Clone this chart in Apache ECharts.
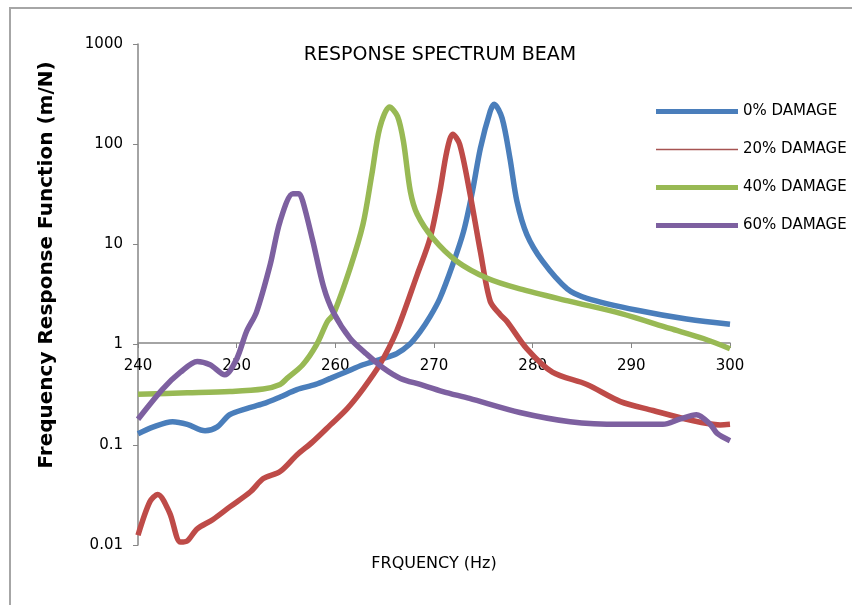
<!DOCTYPE html>
<html>
<head>
<meta charset="utf-8">
<script src="https://cdn.jsdelivr.net/npm/echarts@6/dist/echarts.min.js"></script>
<style>
html,body{margin:0;padding:0;background:#fff;}
#chart{width:852px;height:605px;}
</style>
</head>
<body>
<div id="chart"></div>
<script>
var seriesNames = ['0% DAMAGE', '20% DAMAGE', '40% DAMAGE', '60% DAMAGE'];
var xTicks = [240, 250, 260, 270, 280, 290, 300];

var freq0 = [240, 241.5, 243.5, 245, 246.8, 248, 249.3, 251, 252.7, 254.4, 256.1, 258, 259.5, 261, 262.8, 264.5, 266.2, 267.5, 268.6, 269.6, 270.6, 271.9, 273, 273.9, 274.7, 275.7, 276.1, 276.9, 277.7, 278.4, 279.4, 281, 283.5, 285.5, 290.6, 295.6, 300];
var val0 = [0.129, 0.15, 0.17, 0.16, 0.138, 0.15, 0.2, 0.23, 0.257, 0.3, 0.355, 0.4, 0.46, 0.53, 0.63, 0.71, 0.81, 1.0, 1.35, 1.9, 2.9, 6.3, 13.5, 34, 91, 214, 250, 182, 72, 27, 12.6, 6.8, 3.6, 2.9, 2.2, 1.8, 1.6];

var freq20 = [240, 241.2, 242, 243.2, 244.3, 245, 246, 247.6, 249.3, 251.4, 252.7, 254.4, 256.1, 257.7, 259.5, 261.2, 262.8, 264.5, 266.2, 268.3, 269.6, 270.6, 271.3, 271.9, 272.6, 273.6, 274.7, 275.7, 276.7, 277.4, 279.4, 282, 285.5, 288.9, 292.2, 295.6, 299, 300];
var val20 = [0.0125, 0.027, 0.032, 0.021, 0.0107, 0.011, 0.0145, 0.018, 0.024, 0.034, 0.046, 0.054, 0.079, 0.107, 0.158, 0.23, 0.36, 0.63, 1.35, 5, 11.5, 34, 85, 126, 100, 34, 8.5, 2.7, 2.0, 1.7, 0.91, 0.53, 0.40, 0.27, 0.22, 0.18, 0.158, 0.16];

var freq40 = [240, 245, 249.3, 252.7, 254.4, 255.1, 256.7, 258.1, 259.2, 259.8, 261.5, 262.8, 263.7, 264.5, 265.5, 266.3, 266.9, 267.6, 268.3, 269.9, 272.3, 275.4, 278.7, 283.8, 288.9, 293.9, 297.3, 300];
var val40 = [0.32, 0.33, 0.34, 0.36, 0.4, 0.46, 0.63, 1.0, 1.7, 2.0, 5.8, 15.8, 50, 145, 235, 190, 107, 34, 20, 11.5, 6.8, 4.6, 3.6, 2.7, 2.05, 1.45, 1.15, 0.91];

var freq60 = [240, 242.5, 244.3, 246, 247.3, 248.8, 250, 251, 252, 253.4, 254.4, 255.7, 256.3, 256.7, 257.7, 258.8, 259.8, 261.5, 263.2, 264.9, 266.6, 268.6, 270.9, 273.6, 278.7, 283.8, 288.9, 293.2, 294.9, 296.6, 298, 298.7, 300];
var val60 = [0.18, 0.36, 0.53, 0.68, 0.63, 0.50, 0.72, 1.35, 2.1, 6.3, 17, 32, 32, 27, 11, 3.8, 2.1, 1.15, 0.8, 0.58, 0.46, 0.40, 0.34, 0.29, 0.21, 0.17, 0.16, 0.16, 0.18, 0.2, 0.16, 0.13, 0.11];

var colors = ['#4A7EBB', '#BE4B48', '#98B954', '#7D60A0'];

function pairs(xs, ys) {
    var out = [];
    for (var i = 0; i < xs.length; i++) out.push([xs[i], ys[i]]);
    return out;
}

var allData = [pairs(freq0, val0), pairs(freq20, val20), pairs(freq40, val40), pairs(freq60, val60)];

// legend icons: a bar inside a fixed 82x14 box (the M points pin the box)
var thickIcon = 'path://M0,0 M82,14 M0,4.5 L82,4.5 L82,9.5 L0,9.5 Z';
var thinIcon = 'path://M0,0 M82,14 M0,6.3 L82,6.3 L82,7.7 L0,7.7 Z';

var chart = echarts.init(document.getElementById('chart'));
var txt = '#000';
var font = 'DejaVu Sans';

var option = {
    animation: false,
    backgroundColor: '#fff',
    color: colors,
    title: {
        text: 'RESPONSE SPECTRUM BEAM',
        left: 435,
        top: 41,
        textAlign: 'center',
        textStyle: {color: txt, fontSize: 19, fontWeight: 'normal', fontFamily: font}
    },
    legend: {
        orient: 'vertical',
        left: 651,
        top: 99,
        itemWidth: 82,
        itemHeight: 14,
        itemGap: 23,
        textStyle: {color: txt, fontSize: 15, fontFamily: font, padding: [0, 0, 0, 0]},
        data: [
            {name: seriesNames[0], icon: thickIcon},
            {name: seriesNames[1], icon: thinIcon, itemStyle: {color: '#A65452'}},
            {name: seriesNames[2], icon: thickIcon},
            {name: seriesNames[3], icon: thickIcon}
        ]
    },
    grid: {left: 138, right: 122, top: 44, bottom: 60},
    xAxis: {
        type: 'value',
        min: 240,
        max: 300,
        interval: 10,
        position: 'bottom',
        offset: -202,
        name: 'FRQUENCY (Hz)',
        nameLocation: 'middle',
        nameGap: 213,
        nameTextStyle: {color: txt, fontSize: 16, fontFamily: font},
        axisLine: {onZero: false, lineStyle: {color: '#868686', width: 1.5}},
        axisTick: {show: true, length: 5, lineStyle: {color: '#868686'}},
        axisLabel: {color: txt, fontSize: 15, fontFamily: font, margin: 16},
        splitLine: {show: false}
    },
    yAxis: {
        type: 'log',
        logBase: 10,
        min: 0.01,
        max: 1000,
        axisLine: {show: true, onZero: false, lineStyle: {color: '#868686', width: 1.5}},
        axisTick: {show: true, length: 5, lineStyle: {color: '#868686'}},
        axisLabel: {
            color: txt, fontSize: 15, fontFamily: font, margin: 15,
            formatter: function (v) { return String(+v.toPrecision(3)); }
        },
        splitLine: {show: false},
        minorTick: {show: false}
    },
    graphic: [
        {
            type: 'rect',
            shape: {x: 10, y: 8, width: 850, height: 610},
            style: {fill: 'none', stroke: '#a6a6a6', lineWidth: 2},
            silent: true
        },
        {
            type: 'text',
            x: 47,
            y: 265,
            rotation: Math.PI / 2,
            style: {
                text: 'Frequency Response Function (m/N)',
                fill: txt,
                font: 'bold 20px "DejaVu Sans"',
                align: 'center',
                verticalAlign: 'middle'
            }
        }
    ],
    series: seriesNames.map(function (name, i) {
        return {
            name: name,
            type: 'line',
            smooth: 0.3,
            showSymbol: false,
            symbol: 'none',
            lineStyle: {width: 5.5, color: colors[i]},
            itemStyle: {color: colors[i]},
            data: allData[i]
        };
    })
};
chart.setOption(option);
</script>
</body>
</html>
